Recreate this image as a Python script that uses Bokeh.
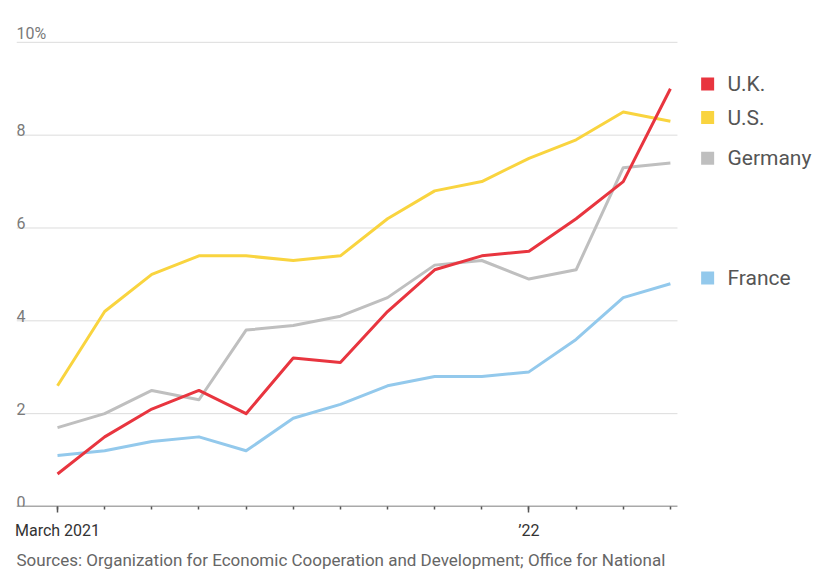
from bokeh.plotting import figure
from bokeh.models import Range1d, FixedTicker, Title, ColumnDataSource
from bokeh.core.properties import value
from bokeh.embed import file_html
from bokeh.resources import INLINE

months = ["Mar 2021", "Apr", "May", "Jun", "Jul", "Aug", "Sep", "Oct", "Nov", "Dec",
          "Jan 2022", "Feb", "Mar", "Apr 2022"]
uk = [0.7, 1.5, 2.1, 2.5, 2.0, 3.2, 3.1, 4.2, 5.1, 5.4, 5.5, 6.2, 7.0, 9.0]
us = [2.6, 4.2, 5.0, 5.4, 5.4, 5.3, 5.4, 6.2, 6.8, 7.0, 7.5, 7.9, 8.5, 8.3]
germany = [1.7, 2.0, 2.5, 2.3, 3.8, 3.9, 4.1, 4.5, 5.2, 5.3, 4.9, 5.1, 7.3, 7.4]
france = [1.1, 1.2, 1.4, 1.5, 1.2, 1.9, 2.2, 2.6, 2.8, 2.8, 2.9, 3.6, 4.5, 4.8]

series_names = ["U.K.", "U.S.", "Germany", "France"]
series_colors = ["#e8353f", "#f9d43f", "#bfbfbf", "#93c9ec"]
legend_label_y = [9.1, 8.38, 7.5, 4.92]

y_ticks = [0, 2, 4, 6, 8, 10]
y_tick_labels = ["0", "2", "4", "6", "8", "10%"]
x_tick_labels = {0: "March 2021", 10: "\u201922"}
source_text = "Sources: Organization for Economic Cooperation and Development; Office for National"

FONT = "Roboto"
x = list(range(len(months)))
x_start, x_axis_end, x_end = -0.87, 13.15, 16.29

p = figure(width=825, height=575, output_backend="svg", toolbar_location=None,
           x_range=Range1d(x_start, x_end), y_range=Range1d(0, 10.47),
           min_border_left=16, min_border_right=0, min_border_top=20, min_border_bottom=69)
p.outline_line_color = None
p.background_fill_color = "white"
p.border_fill_color = "white"
p.yaxis.visible = False
p.xgrid.visible = False
p.ygrid.visible = False

# gridlines (custom, so they stop before the legend)
grid_y = [t for t in y_ticks if t > 0]
p.segment(x0=[x_start] * len(grid_y), x1=[x_axis_end] * len(grid_y), y0=grid_y, y1=grid_y,
          line_color="#dcdcdc", line_width=1)
# baseline
p.segment(x0=[x_start], x1=[x_axis_end], y0=[0], y1=[0], line_color="#555555", line_width=1.5)

# y tick labels above gridlines
p.text(x=[x_start] * len(y_ticks), y=y_ticks, text=y_tick_labels,
       text_font=value(FONT), text_font_size="16px", text_color="#7a7a7a",
       text_baseline="bottom", text_align="left", y_offset=1)

# x axis (ticks + labels only): labelled months get longer ticks
ax = p.xaxis[0]
ax.ticker = FixedTicker(ticks=list(x_tick_labels.keys()), minor_ticks=x)
ax.major_label_overrides = dict(x_tick_labels)
ax.axis_line_color = None
ax.major_tick_line_color = "#555555"
ax.major_tick_line_width = 1.5
ax.major_tick_in = 0
ax.major_tick_out = 6
ax.minor_tick_line_color = "#555555"
ax.minor_tick_line_width = 1.5
ax.minor_tick_in = 0
ax.minor_tick_out = 3
ax.major_label_text_font = FONT
ax.major_label_text_font_size = "16px"
ax.major_label_text_color = "#333333"
ax.major_label_standoff = 8

# lines
data = [uk, us, germany, france]
for vals, col in reversed(list(zip(data, series_colors))):
    p.line(x=x, y=vals, line_color=col, line_width=3, line_join="round")

# legend
sq_x = 13.79
tx_x = 14.21
src = ColumnDataSource(dict(sx=[sq_x] * 4, tx=[tx_x] * 4, y=legend_label_y,
                            name=series_names, color=series_colors))
p.scatter(x="sx", y="y", source=src, marker="square", size=13, fill_color="color", line_color=None)
p.text(x="tx", y="y", text="name", source=src, text_font=value(FONT), text_font_size="21px",
       text_color="#555555", text_baseline="middle", text_align="left")

# sources note below the axis
p.add_layout(Title(text=source_text, text_font=FONT, text_font_size="17px",
                   text_font_style="normal", text_color="#666666", align="left", offset=0,
                   standoff=10), "below")

open("out.html", "w").write(file_html(p, INLINE))
